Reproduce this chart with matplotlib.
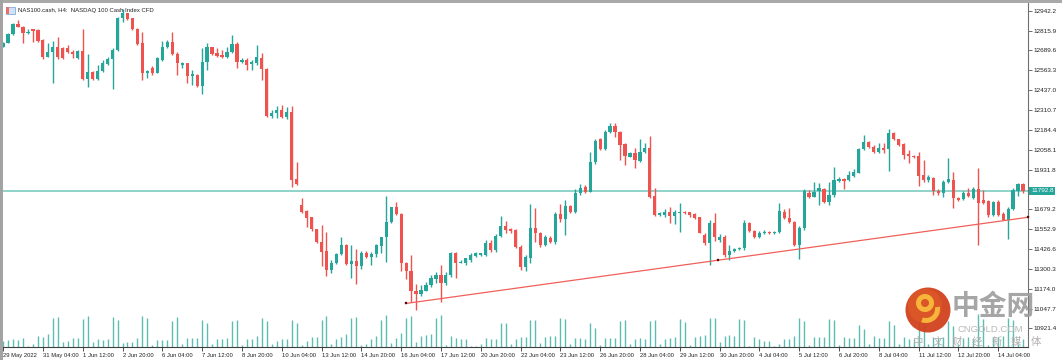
import matplotlib
matplotlib.use("Agg")
import matplotlib.pyplot as plt
from matplotlib.patches import Rectangle, Circle, Wedge
import numpy as np

plt.rcParams['font.family'] = ['Liberation Sans', 'DejaVu Sans']

# ---------------- data (NAS100.cash, H4) ----------------
opens = [12713, 12739, 12792, 12855, 12840, 12798, 12823, 12819, 12756, 12650,
         12677, 12713, 12703, 12707, 12681, 12639, 12686, 12505, 12554, 12508,
         12558, 12603, 12633, 12692, 12893, 12925, 12893, 12823, 12734, 12548,
         12580, 12548, 12628, 12713, 12741, 12664, 12597, 12607, 12527, 12533,
         12463, 12618, 12709, 12671, 12660, 12650, 12681, 12728, 12618, 12628,
         12603, 12607, 12643, 12571, 12274, 12289, 12310, 12264, 12296, 11872,
         11706, 11670, 11628, 11554, 11473, 11414, 11293, 11339, 11395, 11452,
         11331, 11350, 11318, 11403, 11377, 11393, 11447, 11501, 11600, 11692,
         11649, 11339, 11288, 11161, 11138, 11161, 11197, 11234, 11261, 11208,
         11261, 11403, 11335, 11335, 11356, 11382, 11388, 11388, 11463, 11420,
         11509, 11573, 11552, 11547, 11437, 11310, 11367, 11558, 11526, 11452,
         11498, 11473, 11649, 11617, 11700, 11664, 11781, 11823, 11791, 11982,
         12124, 12060, 12172, 12209, 12172, 12092, 12013, 12039, 11988, 12045,
         12071, 11763, 11643, 11643, 11664, 11636, 11657, 11664, 11660, 11649,
         11628, 11515, 11463, 11590, 11485, 11505, 11388, 11416, 11424, 11430,
         11594, 11541, 11503, 11528, 11536, 11528, 11534, 11664, 11622, 11600,
         11452, 11560, 11785, 11755, 11797, 11806, 11727, 11770, 11859, 11872,
         11865, 11891, 11912, 12060, 12109, 12077, 12045, 12067, 12060, 12166,
         12124, 12094, 12028, 12018, 12018, 11897, 11865, 11876, 11797, 11781,
         11854, 11865, 11749, 11742, 11785, 11749, 11806, 11738, 11734, 11643,
         11727, 11649, 11611, 11679, 11795, 11840]
highs = [12745, 12798, 12866, 12883, 12845, 12823, 12828, 12823, 12760, 12734,
         12751, 12773, 12713, 12724, 12692, 12692, 12823, 12667, 12561, 12597,
         12628, 12650, 12703, 12900, 12951, 12929, 12898, 12830, 12809, 12565,
         12590, 12650, 12751, 12756, 12809, 12681, 12618, 12611, 12565, 12539,
         12703, 12739, 12713, 12703, 12692, 12713, 12787, 12745, 12639, 12639,
         12628, 12724, 12675, 12575, 12310, 12336, 12342, 12328, 12336, 11978,
         11749, 11674, 11632, 11554, 11579, 11533, 11356, 11403, 11501, 11458,
         11452, 11424, 11416, 11416, 11409, 11458, 11505, 11763, 11695, 11727,
         11653, 11346, 11388, 11204, 11197, 11217, 11261, 11282, 11325, 11282,
         11409, 11409, 11356, 11367, 11399, 11407, 11403, 11484, 11484, 11520,
         11636, 11606, 11558, 11554, 11452, 11388, 11713, 11685, 11534, 11515,
         11509, 11662, 11713, 11738, 11706, 11806, 11840, 11833, 12045, 12124,
         12130, 12183, 12226, 12230, 12177, 12099, 12045, 12067, 12124, 12102,
         12145, 11812, 11664, 11679, 11692, 11674, 11717, 11670, 11664, 11655,
         11632, 11528, 11611, 11658, 11520, 11515, 11452, 11430, 11436, 11611,
         11600, 11550, 11540, 11545, 11541, 11540, 11720, 11680, 11686, 11605,
         11575, 11810, 11802, 11854, 11844, 11812, 11854, 11950, 11882, 11876,
         11924, 11933, 12067, 12151, 12115, 12088, 12099, 12099, 12188, 12172,
         12124, 12099, 12056, 12024, 12045, 11992, 11897, 11885, 11806, 11865,
         12003, 11918, 11755, 11797, 11812, 11819, 11940, 11802, 11738, 11734,
         11738, 11664, 11692, 11812, 11844, 11844]
lows = [12709, 12734, 12787, 12836, 12739, 12794, 12745, 12745, 12633, 12645,
        12484, 12633, 12633, 12675, 12639, 12633, 12501, 12455, 12501, 12501,
        12554, 12597, 12442, 12688, 12872, 12883, 12819, 12724, 12501, 12512,
        12533, 12544, 12624, 12703, 12660, 12533, 12575, 12484, 12469, 12459,
        12410, 12565, 12660, 12645, 12639, 12639, 12671, 12575, 12607, 12565,
        12565, 12597, 12501, 12268, 12258, 12261, 12258, 12253, 11823, 11833,
        11653, 11568, 11543, 11463, 11318, 11255, 11272, 11331, 11388, 11325,
        11240, 11204, 11297, 11367, 11325, 11377, 11399, 11346, 11590, 11643,
        11288, 11234, 11091, 11040, 11128, 11159, 11187, 11208, 11091, 11197,
        11250, 11240, 11335, 11325, 11346, 11377, 11382, 11382, 11410, 11410,
        11500, 11530, 11526, 11433, 11293, 11288, 11335, 11470, 11439, 11445,
        11465, 11458, 11598, 11515, 11657, 11653, 11770, 11784, 11791, 11967,
        12056, 12056, 12166, 12141, 11992, 11961, 12013, 11940, 11982, 12039,
        11749, 11636, 11638, 11632, 11594, 11585, 11536, 11649, 11632, 11617,
        11526, 11452, 11325, 11480, 11470, 11377, 11356, 11410, 11418, 11420,
        11535, 11495, 11497, 11520, 11522, 11520, 11528, 11615, 11590, 11445,
        11365, 11550, 11749, 11755, 11706, 11717, 11706, 11759, 11854, 11806,
        11859, 11882, 11908, 12056, 12067, 12035, 12035, 12035, 11924, 12120,
        12081, 11997, 11971, 12005, 11827, 11854, 11854, 11770, 11770, 11759,
        11844, 11685, 11734, 11738, 11759, 11742, 11452, 11713, 11632, 11636,
        11636, 11609, 11488, 11674, 11763, 11785]
closes = [12739, 12792, 12855, 12840, 12798, 12809, 12815, 12751, 12650, 12677,
          12713, 12645, 12639, 12681, 12667, 12686, 12505, 12554, 12505, 12561,
          12607, 12633, 12692, 12893, 12925, 12887, 12823, 12730, 12548, 12558,
          12548, 12639, 12713, 12741, 12664, 12607, 12607, 12527, 12539, 12463,
          12618, 12709, 12667, 12654, 12650, 12681, 12728, 12618, 12628, 12597,
          12618, 12645, 12571, 12274, 12293, 12310, 12264, 12296, 11865, 11838,
          11664, 11625, 11552, 11469, 11409, 11293, 11339, 11395, 11452, 11331,
          11350, 11318, 11403, 11377, 11393, 11452, 11501, 11600, 11692, 11647,
          11339, 11288, 11161, 11138, 11166, 11197, 11240, 11261, 11208, 11261,
          11403, 11335, 11346, 11367, 11388, 11399, 11399, 11463, 11420, 11509,
          11573, 11547, 11543, 11437, 11310, 11377, 11558, 11526, 11452, 11501,
          11473, 11649, 11617, 11700, 11664, 11781, 11816, 11791, 11982, 12115,
          12060, 12172, 12209, 12172, 12088, 12018, 12039, 11992, 12045, 12071,
          11759, 11643, 11657, 11664, 11636, 11664, 11664, 11653, 11643, 11622,
          11530, 11465, 11590, 11500, 11505, 11388, 11416, 11424, 11430, 11594,
          11541, 11503, 11528, 11536, 11528, 11534, 11668, 11622, 11600, 11452,
          11560, 11795, 11759, 11791, 11812, 11727, 11770, 11865, 11872, 11859,
          11897, 11918, 12060, 12109, 12073, 12041, 12071, 12058, 12162, 12126,
          12088, 12024, 12018, 12013, 11891, 11865, 11882, 11795, 11781, 11854,
          11870, 11749, 11738, 11781, 11763, 11806, 11721, 11721, 11643, 11727,
          11643, 11611, 11679, 11802, 11840, 11792.8]
volumes = [20, 22, 24, 22, 27, 4, 9, 34, 31, 40, 87, 92, 15, 19, 29, 29, 85, 94, 15, 25,
           22, 25, 92, 82, 12, 16, 16, 28, 94, 89, 6, 22, 22, 22, 79, 92, 10, 27, 29, 27,
           82, 72, 10, 24, 25, 28, 79, 82, 7, 24, 24, 33, 89, 79, 10, 20, 24, 24, 83, 72,
           6, 20, 32, 31, 83, 94, 10, 25, 32, 39, 89, 92, 8, 10, 24, 34, 82, 97, 14, 27,
           42, 87, 94, 16, 34, 37, 39, 87, 96, 8, 34, 27, 24, 25, 4, 4, 9, 27, 24, 24,
           72, 72, 9, 26, 30, 30, 82, 82, 12, 32, 34, 34, 87, 85, 10, 27, 27, 24, 74, 57,
           6, 29, 29, 29, 80, 82, 10, 25, 27, 24, 80, 82, 10, 24, 29, 30, 86, 77, 7, 32,
           34, 36, 87, 89, 16, 34, 36, 34, 84, 81, 4, 30, 24, 20, 20, 4, 10, 26, 26, 34,
           89, 79, 6, 30, 32, 32, 85, 82, 6, 32, 29, 27, 67, 54, 10, 34, 27, 27, 79, 67,
           10, 32, 26, 26, 85, 70, 10, 30, 28, 30, 80, 64, 10, 28, 30, 26, 100, 84, 8, 30,
           30, 34, 87, 82, 10, 26]

tick_bars = list(range(0, 201, 8))
tick_labels = ['29 May 2022', '31 May 04:00', '1 Jun 12:00', '2 Jun 20:00', '6 Jun 04:00',
               '7 Jun 12:00', '8 Jun 20:00', '10 Jun 04:00', '13 Jun 12:00', '14 Jun 20:00',
               '16 Jun 04:00', '17 Jun 12:00', '20 Jun 20:00', '22 Jun 04:00', '23 Jun 12:00',
               '26 Jun 20:00', '28 Jun 04:00', '29 Jun 12:00', '30 Jun 20:00', '4 Jul 04:00',
               '5 Jul 12:00', '6 Jul 20:00', '8 Jul 04:00', '11 Jul 12:00', '12 Jul 20:00',
               '14 Jul 04:00']
price_ticks = [12942.2, 12815.9, 12689.6, 12563.3, 12437.0, 12310.7, 12184.4, 12058.1,
               11931.8, 11805.5, 11679.2, 11552.9, 11426.6, 11300.3, 11174.0, 11047.7,
               10921.4]
current_price = 11792.8
trend_bars = [81, 143.6, 206]
trend_prices = [11080, 11354, 11628]
title = 'NAS100.cash, H4:  NASDAQ 100 Cash Index CFD'

# ---------------- styling ----------------
UP = '#26a69a'
DN = '#ef5350'
W, H = 1062, 360
fig = plt.figure(figsize=(W / 100, H / 100), dpi=100)
fig.patch.set_facecolor('white')

L, R, T, B = 3, 1028, 3, 347.3
rect = [L / W, 1 - B / H, (R - L) / W, (B - T) / H]

# volume axes (behind)
axv = fig.add_axes(rect, zorder=0)
axv.set_xlim(-0.02, 206.0)
axv.set_ylim(0, 1032)
axv.axis('off')
x = np.arange(len(opens))
axv.vlines(x, 0, volumes, color='#5cbdb2', linewidth=1.0)

ax = fig.add_axes(rect, zorder=1)
ax.patch.set_alpha(0)
o = np.array(opens, float)
c = np.array(closes, float)
h = np.array(highs, float)
lo = np.array(lows, float)
cols = np.where(c >= o, UP, DN)
ax.vlines(x, lo, h, color=cols, linewidth=1.0, zorder=2)
ax.bar(x, np.maximum(np.abs(c - o), 5.0), bottom=np.minimum(o, c), width=0.64,
       color=cols, linewidth=0, zorder=3)

ax.axhline(current_price, color='#8fd3ca', linewidth=1.4, zorder=1)
ax.plot(trend_bars[::2], trend_prices[::2], color='#f0605a', linewidth=0.9, zorder=4)
ax.plot(trend_bars, trend_prices, linestyle='none', marker='s', markersize=2.0,
        markerfacecolor='black', markeredgecolor='#c03030', markeredgewidth=0.3,
        zorder=5, clip_on=False)

ax.set_xlim(-0.02, 206.0)
ax.set_ylim(10801, 12991)

for s in ['top', 'left']:
    ax.spines[s].set_visible(False)
ax.spines['right'].set_color('#707070')
ax.spines['right'].set_linewidth(0.8)
ax.spines['bottom'].set_color('#404040')
ax.spines['bottom'].set_linewidth(0.8)

ax.yaxis.tick_right()
ax.set_yticks(price_ticks)
# the 11805.5 label sits under the current-price box in the reference
ax.set_yticklabels(['' if abs(v - 11805.5) < 0.01 else '%.1f' % v for v in price_ticks])
ax.tick_params(axis='y', direction='out', length=3, width=0.6, colors='#555555',
               labelsize=4.6, pad=1, labelcolor='#222222')
ax.set_xticks(tick_bars)
ax.set_xticklabels(tick_labels, ha='left')
ax.tick_params(axis='x', direction='out', length=3, width=0.6, colors='#333333',
               labelsize=4.25, pad=1, labelcolor='#222222')

# overlay in pixel coordinates
ov = fig.add_axes([0, 0, 1, 1], zorder=10)
ov.set_xlim(0, W)
ov.set_ylim(H, 0)
ov.axis('off')
ov.patch.set_alpha(0)

# window frame
ov.add_patch(Rectangle((0, 0), W, 2.6, facecolor='#a9a9a9', edgecolor='none'))
ov.add_patch(Rectangle((0, 0), 3, H, facecolor='#a3a3a3', edgecolor='none'))

# title + icon
ov.add_patch(Rectangle((6, 6.5), 9, 7.5, facecolor='#cfe2f6', edgecolor='#6f9fd8', linewidth=0.5))
ov.add_patch(Rectangle((6, 6.5), 3, 7.5, facecolor='#e8706a', edgecolor='none'))
ov.text(18, 10.5, title, fontsize=4.3, color='#222222', va='center', ha='left')

# current price label
ov.text(1031, 190.8, '%.1f' % current_price, fontsize=4.6, color='white', va='center',
        ha='left', bbox=dict(boxstyle='square,pad=0.25', facecolor='#26a69a', edgecolor='none'))

# watermark
ov.add_patch(Circle((928, 310), 22.5, facecolor='#d1411d', edgecolor='none', alpha=0.95))
ov.add_patch(Circle((925, 306), 17, facecolor='#de5a26', edgecolor='none', alpha=0.8))
ov.add_patch(Wedge((925, 303), 9, 0, 360, width=5, facecolor='#f6b43a', edgecolor='none'))
ov.add_patch(Wedge((926, 309), 14, -10, 110, width=5, facecolor='#f6b43a', edgecolor='none'))
ov.text(993, 307, '中金网', fontsize=20, fontweight='bold', color='#9c9c9c', alpha=0.9,
        ha='center', va='center', family=['Noto Sans CJK SC', 'DejaVu Sans'])
ov.text(990, 329.5, 'CNGOLD.COM', fontsize=6.8, color='#b8b8b8', ha='center', va='center')
for k, ch in enumerate('中文财经新媒体'):
    ov.text(918 + 19.6 * k, 342, ch, fontsize=7.5, color='#b0b0b0', ha='center', va='center',
            family=['Noto Sans CJK SC', 'DejaVu Sans'])

fig.savefig('out.png', dpi=100)
